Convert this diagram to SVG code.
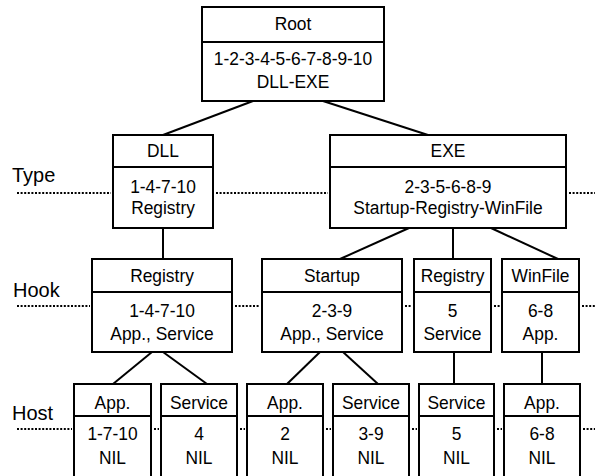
<svg xmlns="http://www.w3.org/2000/svg" width="595" height="476" viewBox="0 0 595 476">
<style>
rect.b{fill:#fff;stroke:#000;stroke-width:2}
line.d{stroke:#000;stroke-width:2}
.c line{stroke:#000;stroke-width:2}
.dot line{stroke:#000;stroke-width:2;stroke-dasharray:2 1.6}
text{font-family:"Liberation Sans",Arial,sans-serif;font-size:18.7px;fill:#000;text-anchor:middle}
text.lab{font-size:20px;text-anchor:start}
</style>
<rect width="595" height="476" fill="#fff"/>
<g class="dot">
<line x1="17" y1="193" x2="111" y2="193"/><line x1="216" y1="193" x2="328" y2="193"/><line x1="569" y1="193" x2="595" y2="193"/>
<line x1="17" y1="306" x2="90" y2="306"/><line x1="235" y1="306" x2="260" y2="306"/><line x1="405" y1="306" x2="412" y2="306"/><line x1="494" y1="306" x2="500" y2="306"/><line x1="582" y1="306" x2="595" y2="306"/>
<line x1="17" y1="429" x2="72" y2="429"/><line x1="154" y1="429" x2="159" y2="429"/><line x1="240" y1="429" x2="245" y2="429"/><line x1="326" y1="429" x2="331" y2="429"/><line x1="412" y1="429" x2="417" y2="429"/><line x1="497" y1="429" x2="502" y2="429"/><line x1="583" y1="429" x2="595" y2="429"/>
</g>
<text class="lab" x="12" y="182">Type</text>
<text class="lab" x="13" y="297">Hook</text>
<text class="lab" x="12" y="420">Host</text>
<g class="c" id="connectors">
<line x1="253" y1="101" x2="163" y2="135"/>
<line x1="323" y1="101" x2="428" y2="135"/>
<line x1="163" y1="228" x2="163" y2="259"/>
<line x1="409" y1="228" x2="340" y2="259"/>
<line x1="453" y1="228" x2="453" y2="259"/>
<line x1="491" y1="228" x2="558" y2="259"/>
<line x1="152" y1="352" x2="113" y2="384"/>
<line x1="163" y1="352" x2="207" y2="384"/>
<line x1="320" y1="352" x2="287" y2="384"/>
<line x1="343" y1="352" x2="378" y2="384"/>
<line x1="454" y1="352" x2="454" y2="384"/>
<line x1="542" y1="352" x2="542" y2="384"/>
</g>
<g id="root"><rect class="b" x="202" y="7" width="182" height="94"/><line class="d" x1="202" y1="42" x2="384" y2="42"/>
<text transform="translate(293 30) scale(.93 1)">Root</text><text transform="translate(293 65) scale(.93 1)">1-2-3-4-5-6-7-8-9-10</text><text transform="translate(293 88) scale(.93 1)">DLL-EXE</text></g>
<g id="dll"><rect class="b" x="113" y="135" width="100" height="93"/><line class="d" x1="113" y1="167" x2="213" y2="167"/>
<text transform="translate(163 157) scale(.93 1)">DLL</text><text transform="translate(163 193) scale(.93 1)">1-4-7-10</text><text transform="translate(163 214) scale(.93 1)">Registry</text></g>
<g id="exe"><rect class="b" x="330" y="135" width="236" height="93"/><line class="d" x1="330" y1="167" x2="566" y2="167"/>
<text transform="translate(448 157) scale(.93 1)">EXE</text><text transform="translate(448 193) scale(.93 1)">2-3-5-6-8-9</text><text transform="translate(448 214) scale(.93 1)">Startup-Registry-WinFile</text></g>
<g id="hook-registry1"><rect class="b" x="92" y="259" width="140" height="93"/><line class="d" x1="92" y1="292" x2="232" y2="292"/>
<text transform="translate(162 282) scale(.93 1)">Registry</text><text transform="translate(162 317) scale(.93 1)">1-4-7-10</text><text transform="translate(162 340) scale(.93 1)">App., Service</text></g>
<g id="hook-startup"><rect class="b" x="262" y="259" width="140" height="93"/><line class="d" x1="262" y1="292" x2="402" y2="292"/>
<text transform="translate(332 282) scale(.93 1)">Startup</text><text transform="translate(332 317) scale(.93 1)">2-3-9</text><text transform="translate(332 340) scale(.93 1)">App., Service</text></g>
<g id="hook-registry2"><rect class="b" x="414" y="259" width="77" height="93"/><line class="d" x1="414" y1="292" x2="491" y2="292"/>
<text transform="translate(452.5 282) scale(.93 1)">Registry</text><text transform="translate(452.5 317) scale(.93 1)">5</text><text transform="translate(452.5 340) scale(.93 1)">Service</text></g>
<g id="hook-winfile"><rect class="b" x="502" y="259" width="77" height="93"/><line class="d" x1="502" y1="292" x2="579" y2="292"/>
<text transform="translate(540.5 282) scale(.93 1)">WinFile</text><text transform="translate(540.5 317) scale(.93 1)">6-8</text><text transform="translate(540.5 340) scale(.93 1)">App.</text></g>
<g id="host-app1"><rect class="b" x="74" y="384" width="77" height="96"/><line class="d" x1="74" y1="416" x2="151" y2="416"/>
<text transform="translate(112.5 409) scale(.93 1)">App.</text><text transform="translate(112.5 440) scale(.93 1)">1-7-10</text><text transform="translate(112.5 464) scale(.93 1)">NIL</text></g>
<g id="host-service1"><rect class="b" x="161" y="384" width="76" height="96"/><line class="d" x1="161" y1="416" x2="237" y2="416"/>
<text transform="translate(199 409) scale(.93 1)">Service</text><text transform="translate(199 440) scale(.93 1)">4</text><text transform="translate(199 464) scale(.93 1)">NIL</text></g>
<g id="host-app2"><rect class="b" x="247" y="384" width="76" height="96"/><line class="d" x1="247" y1="416" x2="323" y2="416"/>
<text transform="translate(285 409) scale(.93 1)">App.</text><text transform="translate(285 440) scale(.93 1)">2</text><text transform="translate(285 464) scale(.93 1)">NIL</text></g>
<g id="host-service2"><rect class="b" x="333" y="384" width="76" height="96"/><line class="d" x1="333" y1="416" x2="409" y2="416"/>
<text transform="translate(371 409) scale(.93 1)">Service</text><text transform="translate(371 440) scale(.93 1)">3-9</text><text transform="translate(371 464) scale(.93 1)">NIL</text></g>
<g id="host-service3"><rect class="b" x="419" y="384" width="75" height="96"/><line class="d" x1="419" y1="416" x2="494" y2="416"/>
<text transform="translate(456.5 409) scale(.93 1)">Service</text><text transform="translate(456.5 440) scale(.93 1)">5</text><text transform="translate(456.5 464) scale(.93 1)">NIL</text></g>
<g id="host-app3"><rect class="b" x="504" y="384" width="76" height="96"/><line class="d" x1="504" y1="416" x2="580" y2="416"/>
<text transform="translate(542 409) scale(.93 1)">App.</text><text transform="translate(542 440) scale(.93 1)">6-8</text><text transform="translate(542 464) scale(.93 1)">NIL</text></g>
</svg>
